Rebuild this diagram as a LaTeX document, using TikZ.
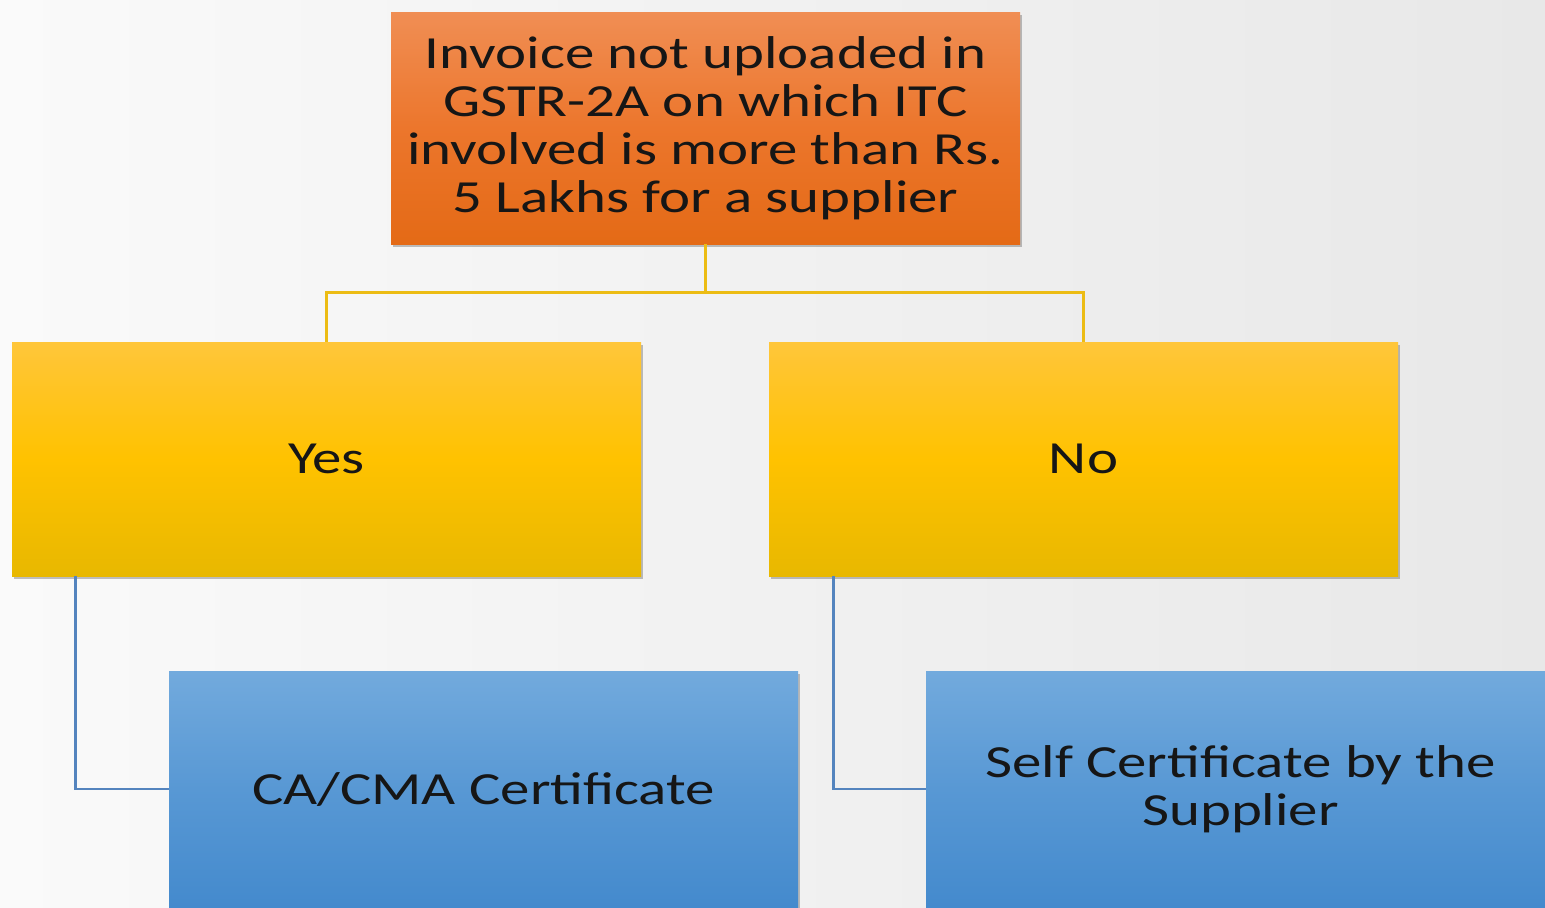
\documentclass[tikz,border=0pt]{standalone}
\usepackage{fontspec}
\setmainfont{Carlito}[FakeStretch=1.28]
\usetikzlibrary{shadows}
\definecolor{bgL}{RGB}{250,250,250}
\definecolor{bgR}{RGB}{232,232,232}
\definecolor{orT}{RGB}{240,142,84}
\definecolor{orM}{RGB}{236,118,44}
\definecolor{orB}{RGB}{228,106,22}
\definecolor{yeT}{RGB}{255,198,58}
\definecolor{yeM}{RGB}{255,194,0}
\definecolor{yeB}{RGB}{232,184,0}
\definecolor{blT}{RGB}{114,170,221}
\definecolor{blM}{RGB}{88,152,212}
\definecolor{blB}{RGB}{68,138,205}
\definecolor{goldline}{RGB}{236,188,20}
\definecolor{blueline}{RGB}{84,132,190}
\definecolor{txt}{RGB}{22,22,22}
\tikzset{
  box/.style={rectangle, sharp corners, inner sep=0pt, align=center, text=txt,
    font=\fontsize{23}{24}\selectfont,
    drop shadow={shadow xshift=1pt, shadow yshift=-1.5pt, opacity=0.35, fill=black!70}},
  orbox/.style={box, minimum width=314.5pt, minimum height=116pt,
    top color=orT, bottom color=orB, middle color=orM},
  yebox/.style={box, minimum width=314.5pt, minimum height=117pt,
    top color=yeT, bottom color=yeB, middle color=yeM},
  blbox/.style={box, minimum width=314.5pt, minimum height=118pt,
    top color=blT, bottom color=blB, middle color=blM},
  gline/.style={draw=goldline, line width=1.5pt},
  bline/.style={draw=blueline, line width=1.3pt},
}
\begin{document}
\begin{tikzpicture}[x=0.5pt,y=-0.5pt]
\useasboundingbox (0,0) rectangle (1545,907);
\clip (0,0) rectangle (1545,907);
\shade[left color=bgL, right color=bgR] (0,0) rectangle (1545,907);
\node[orbox] (top) at (705.5,128) {Invoice not uploaded in\\GSTR-2A on which ITC\\involved is more than Rs.\\5 Lakhs for a supplier};
\node[yebox] (yes) at (326.5,459) {Yes};
\node[yebox] (no) at (1083.5,459) {No};
\node[blbox] (ca) at (483.5,789) {CA/CMA Certificate};
\node[blbox] (self) at (1240.5,789) {Self Certificate by the\\Supplier};
\draw[gline] (top.south) -- ++(0,-24pt) -| (yes.north);
\draw[gline] (top.south) -- ++(0,-24pt) -| (no.north);
\draw[bline] ([xshift=32pt]yes.south west) |- (ca.west);
\draw[bline] ([xshift=32.5pt]no.south west) |- (self.west);
\end{tikzpicture}
\end{document}
